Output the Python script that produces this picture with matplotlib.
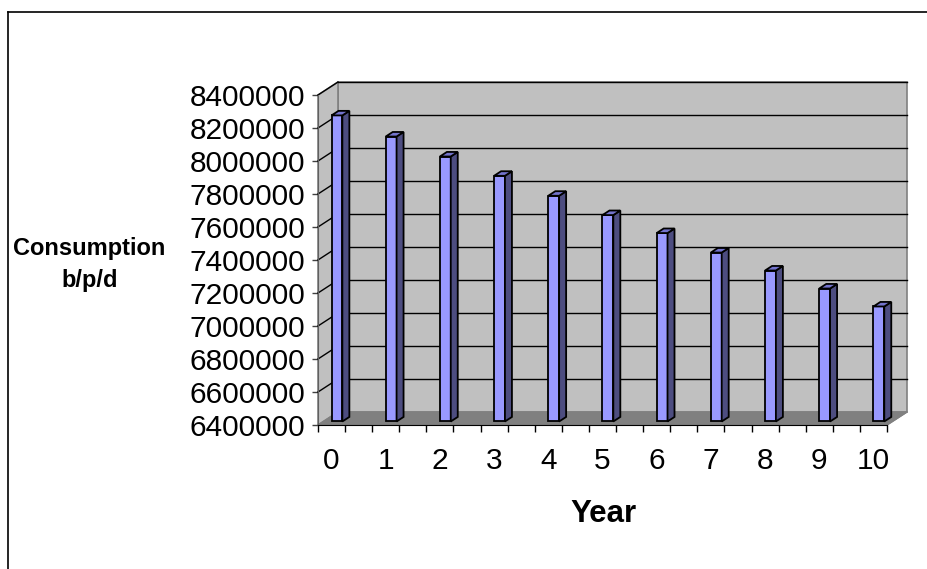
import matplotlib.pyplot as plt
from matplotlib.patches import Polygon
from matplotlib.lines import Line2D

plt.rcParams['font.family'] = ['Liberation Sans', 'DejaVu Sans']

# Data
years = list(range(11))
year_labels = [str(y) for y in years]
consumption = [8255000, 8127000, 8006000, 7889000, 7768000, 7651000,
               7542000, 7424000, 7315000, 7206000, 7097000]
y_ticks = list(range(6400000, 8400001, 200000))

W, H = 928, 569
fig = plt.figure(figsize=(W / 100, H / 100), dpi=100)

# front plane of the 3d box, in pixels
left, right, top, bottom = 318, 887, 95, 425
ax = fig.add_axes([left / W, 1 - bottom / H, (right - left) / W, (bottom - top) / H])
x0, x1 = -0.25, 10.25
y0, y1 = 6400000, 8400000
ax.set_xlim(x0, x1)
ax.set_ylim(y0, y1)
ax.patch.set_visible(False)

# depth offset (pixels -> data units)
px_x = (x1 - x0) / (right - left)
px_y = (y1 - y0) / (bottom - top)
ddx, ddy = 20 * px_x, 13 * px_y


def poly(pts, fc, ec, lw, z):
    ax.add_patch(Polygon(pts, closed=True, facecolor=fc, edgecolor=ec,
                         linewidth=lw, zorder=z, clip_on=False))


# walls and floor
poly([(x0 + ddx, y0 + ddy), (x1 + ddx, y0 + ddy), (x1 + ddx, y1 + ddy), (x0 + ddx, y1 + ddy)],
     '#C0C0C0', '#808080', 1.2, 1)
poly([(x0, y0), (x0 + ddx, y0 + ddy), (x0 + ddx, y1 + ddy), (x0, y1)],
     '#C0C0C0', '#808080', 1.2, 1)
poly([(x0, y0), (x1, y0), (x1 + ddx, y0 + ddy), (x0 + ddx, y0 + ddy)],
     '#808080', '#808080', 1.0, 1.5)

# gridlines on back and side walls
for t in y_ticks[1:]:
    ax.plot([x0 + ddx, x1 + ddx], [t + ddy, t + ddy], color='black', lw=1.0, zorder=2, clip_on=False)
    ax.plot([x0, x0 + ddx], [t, t + ddy], color='black', lw=1.0, zorder=2, clip_on=False)
ax.plot([x1, x1 + ddx], [y0, y0 + ddy], color='#808080', lw=1.0, zorder=2, clip_on=False)

# bars
hw = 0.1
f1, f2 = 0.27, 0.62
for i, v in zip(years, consumption):
    ax_, ay_ = f1 * ddx, f1 * ddy
    bx_, by_ = f2 * ddx, f2 * ddy
    poly([(i - hw + ax_, y0 + ay_), (i + hw + ax_, y0 + ay_), (i + hw + ax_, v + ay_), (i - hw + ax_, v + ay_)],
         '#9999FF', 'black', 1.3, 5)
    poly([(i + hw + ax_, y0 + ay_), (i + hw + bx_, y0 + by_), (i + hw + bx_, v + by_), (i + hw + ax_, v + ay_)],
         '#4D4D80', 'black', 1.3, 5)
    poly([(i - hw + ax_, v + ay_), (i + hw + ax_, v + ay_), (i + hw + bx_, v + by_), (i - hw + bx_, v + by_)],
         '#7373CC', 'black', 1.3, 5)

# axes
for s in ['top', 'right']:
    ax.spines[s].set_visible(False)
ax.spines['left'].set_color('#606060')
ax.spines['bottom'].set_color('black')
ax.spines['left'].set_zorder(3)
ax.spines['bottom'].set_zorder(6)

ax.set_yticks(y_ticks)
ax.set_yticklabels([str(t) for t in y_ticks], fontsize=21.5)
ax.tick_params(axis='y', length=4.5, width=1, color='#404040', pad=4.5)

ax.set_xticks(years)
ax.set_xticklabels(year_labels, fontsize=21.5)
ax.set_xticks([x0 + 0.5 * k for k in range(22)], minor=True)
ax.tick_params(axis='x', which='major', length=0, pad=16)
ax.tick_params(axis='x', which='minor', length=5, width=1, color='black')

fig.text(603 / W, 1 - 522.5 / H, 'Year', ha='center', va='baseline',
         fontsize=22.5, fontweight='bold')
fig.text(89 / W, 1 - 255 / H, 'Consumption', ha='center', va='baseline',
         fontsize=17, fontweight='bold')
fig.text(90 / W, 1 - 287 / H, 'b/p/d', ha='center', va='baseline',
         fontsize=17, fontweight='bold')

# outer chart border (only left and top visible)
fig.add_artist(Line2D([8.5 / W, 8.5 / W], [0, 1 - 11.5 / H], color='black', lw=1.2))
fig.add_artist(Line2D([8.5 / W, 1], [1 - 11.5 / H, 1 - 11.5 / H], color='black', lw=1.2))

fig.savefig('out.png', dpi=100)
